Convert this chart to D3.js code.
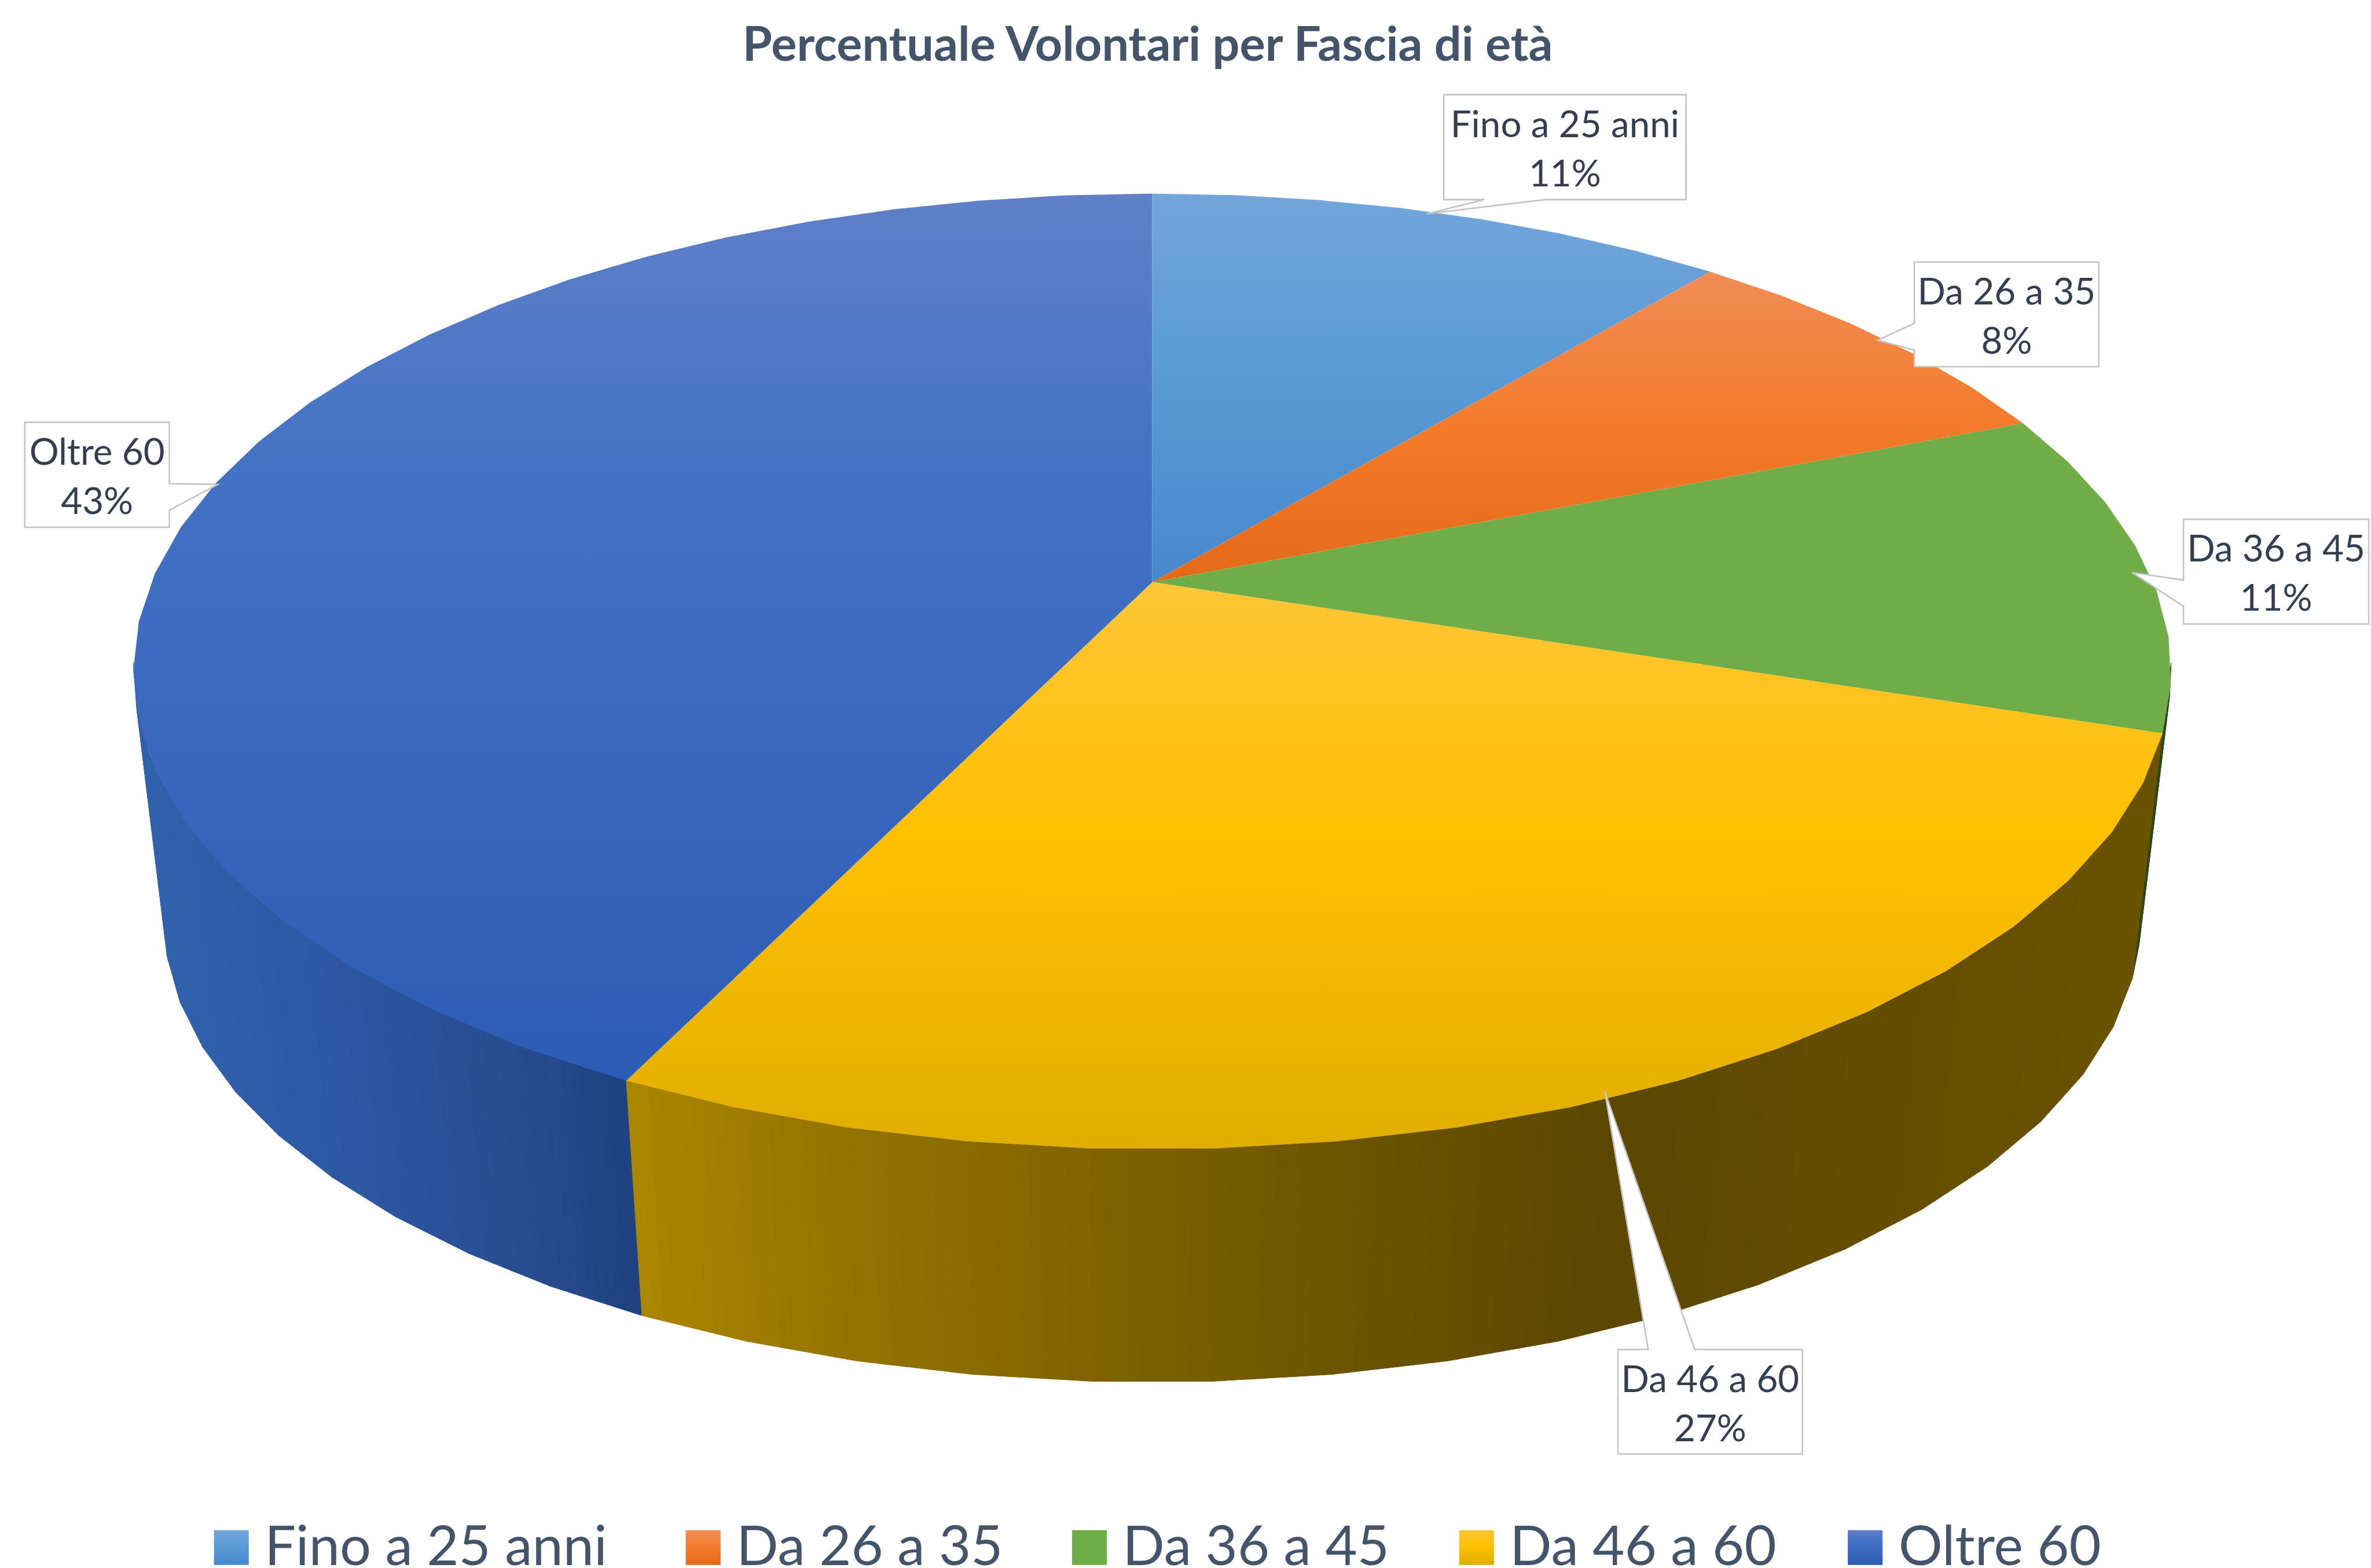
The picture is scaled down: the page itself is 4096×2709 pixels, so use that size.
<!DOCTYPE html>
<html><head><meta charset="utf-8">
<script src="https://cdnjs.cloudflare.com/ajax/libs/d3/7.8.5/d3.min.js"></script>
<style>html,body{margin:0;padding:0;background:#fff;overflow:hidden}svg{display:block}text{font-family:Lato,"Open Sans",sans-serif}</style>
</head><body><div id="c"></div>
<script>
const titleText = "Percentuale Volontari per Fascia di età";
const categories = ["Fino a 25 anni","Da 26 a 35","Da 36 a 45","Da 46 a 60","Oltre 60"];
const values = [11.0, 8.0, 11.0, 27.2, 42.8];
const lightColors = ["#72A6DB","#F08D55","#70AD47","#FFC637","#6080C8"];
const baseColors  = ["#5B9BD5","#F47B2A","#70AD47","#FFC000","#4472C4"];
const darkColors  = ["#4689CC","#E36A18","#70AD47","#E0AE00","#2D5CB4"];
const baseStops   = [0.45,0.5,0.45,0.45,0.3];
// wall shading stops: position across the picture -> colour, one list per visible slice
const wallStops = {
  2:{x:[1400,1440],c:["#2C4A1B","#2C4A1B"]},
  3:{x:[414,440,560,760,900,1060,1200,1430],c:["#AD8700","#A88300","#947300","#7B6000","#6B5300","#5B4700","#614C00","#6A5300"]},
  4:{x:[100,250,350,414],c:["#3262AC","#2C55A0","#274B8E","#1F4380"]}
};
// callout layout: box, pointer base on one side of the box, tip
const calloutLayout = [
 {x0:954.8,x1:1115,y0:62.6,y1:132,side:"bottom",a:981.6,b:1022,tip:[943.6,141.4]},
 {x0:1266,x1:1388,y0:173.3,y1:242.5,side:"left",a:213.8,b:231.5,tip:[1241.7,225]},
 {x0:1444,x1:1566.5,y0:343.4,y1:412.7,side:"left",a:383.7,b:401,tip:[1410,378.6]},
 {x0:1070,x1:1192,y0:892.5,y1:961.6,side:"top",a:1090,b:1120.8,tip:[1061.3,721.8]},
 {x0:16.4,x1:112,y0:279.3,y1:348.7,side:"right",a:319.8,b:337.4,tip:[144,320.4]}
];
const legendX = [141.5,453.5,709,965,1222];

const W=1568,H=1037;
const svg=d3.select("#c").append("svg").attr("width",4096).attr("height",2709).attr("viewBox",`0 0 ${W} ${H}`);
const defs=svg.append("defs");
categories.forEach((c,i)=>{
  const g=defs.append("linearGradient").attr("id","g"+i).attr("x1",0).attr("y1",0).attr("x2",0).attr("y2",1);
  [[0,lightColors[i]],[baseStops[i],baseColors[i]],[1,darkColors[i]]].forEach(s=>g.append("stop").attr("offset",s[0]).attr("stop-color",s[1]));
});

// perspective projection of the disc
const cx=762, p=0.187, bTop=662;
function topPt(t){const s=1/(1+p*Math.cos(t));return [cx+bTop*Math.sin(t)*s,385-305*Math.cos(t)*s];}
function botPt(t){const s=1/(1+p*Math.cos(t));return [cx+0.97*bTop*Math.sin(t)*s,550-296*Math.cos(t)*s];}
const lineGen=d3.line();
const arcs=d3.pie().sort(null).value(d=>d)(values);
const step=6*Math.PI/180;
function angles(a0,a1){const n=Math.ceil((a1-a0)/step-1e-6);return d3.range(n+1).map(i=>a0+(a1-a0)*i/n);}
function lerp(a,b,u){return [a[0]+(b[0]-a[0])*u,a[1]+(b[1]-a[1])*u];}

// walls: polygonal facets, each shaded in narrow vertical strips; top edge raised a little under the top face
const vis0=100*Math.PI/180, vis1=260*Math.PI/180, strips=10, tuck=1.5;
function wallTop(t){const q=topPt(t);return [q[0],q[1]-tuck];}
const wall=svg.append("g");
[2,4,3].forEach(i=>{
  const a=arcs[i], st=wallStops[i];
  const col=d3.scaleLinear().domain(st.x).range(st.c).clamp(true);
  const ts=angles(Math.max(a.startAngle,vis0),Math.min(a.endAngle,vis1));
  const quads=d3.pairs(ts);
  (i===3?quads:quads.slice().reverse()).forEach(([t0,t1])=>{
    const A=wallTop(t0),B=wallTop(t1),C=botPt(t1),D=botPt(t0);
    d3.range(strips).forEach(k=>{
      const u0=k/strips,u1=(k+1)/strips;
      const q=[lerp(A,B,u0),lerp(A,B,u1),lerp(D,C,u1),lerp(D,C,u0)];
      const c=col(d3.mean(q,d=>d[0]));
      wall.append("path").attr("d",lineGen(q)+"Z").attr("fill",c).attr("stroke",c).attr("stroke-width",0.4);
    });
  });
});

// top face
const topFace=svg.append("g");
arcs.forEach((a,i)=>{
  const pts=[[cx,385],...angles(a.startAngle,a.endAngle).map(topPt)];
  topFace.append("path").attr("d",lineGen(pts)+"Z").attr("fill",`url(#g${i})`);
});

// title
svg.append("text").attr("x",759).attr("y",40).attr("text-anchor","middle").attr("font-size",31.7).attr("font-weight",700).attr("fill","#44546A").text(titleText);

// callouts
const pct=d3.format(".0%");
const total=d3.sum(values);
const callouts=svg.append("g");
calloutLayout.forEach((b,i)=>{
  let pts;
  if(b.side==="bottom") pts=[[b.x0,b.y0],[b.x1,b.y0],[b.x1,b.y1],[b.b,b.y1],b.tip,[b.a,b.y1],[b.x0,b.y1]];
  if(b.side==="left")   pts=[[b.x0,b.y0],[b.x1,b.y0],[b.x1,b.y1],[b.x0,b.y1],[b.x0,b.b],b.tip,[b.x0,b.a]];
  if(b.side==="right")  pts=[[b.x0,b.y0],[b.x1,b.y0],[b.x1,b.a],b.tip,[b.x1,b.b],[b.x1,b.y1],[b.x0,b.y1]];
  if(b.side==="top")    pts=[[b.x0,b.y0],[b.a,b.y0],b.tip,[b.b,b.y0],[b.x1,b.y0],[b.x1,b.y1],[b.x0,b.y1]];
  callouts.append("path").attr("d",lineGen(pts)+"Z").attr("fill","#fff").attr("stroke","#C4C4C4").attr("stroke-width",1);
  const mx=(b.x0+b.x1)/2;
  callouts.append("text").attr("x",mx).attr("y",b.y0+28).attr("text-anchor","middle").attr("font-size",24.4).attr("fill","#333F50").text(categories[i]);
  callouts.append("text").attr("x",mx).attr("y",b.y0+60.5).attr("text-anchor","middle").attr("font-size",24.4).attr("fill","#333F50").text(pct(values[i]/total));
});

// legend
const legend=svg.append("g");
categories.forEach((c,i)=>{
  legend.append("rect").attr("x",legendX[i]).attr("y",1012).attr("width",23).attr("height",23).attr("fill",`url(#g${i})`);
  legend.append("text").attr("x",legendX[i]+33.5).attr("y",1035).attr("font-size",36.5).attr("fill","#44546A").text(c);
});
</script></body></html>
